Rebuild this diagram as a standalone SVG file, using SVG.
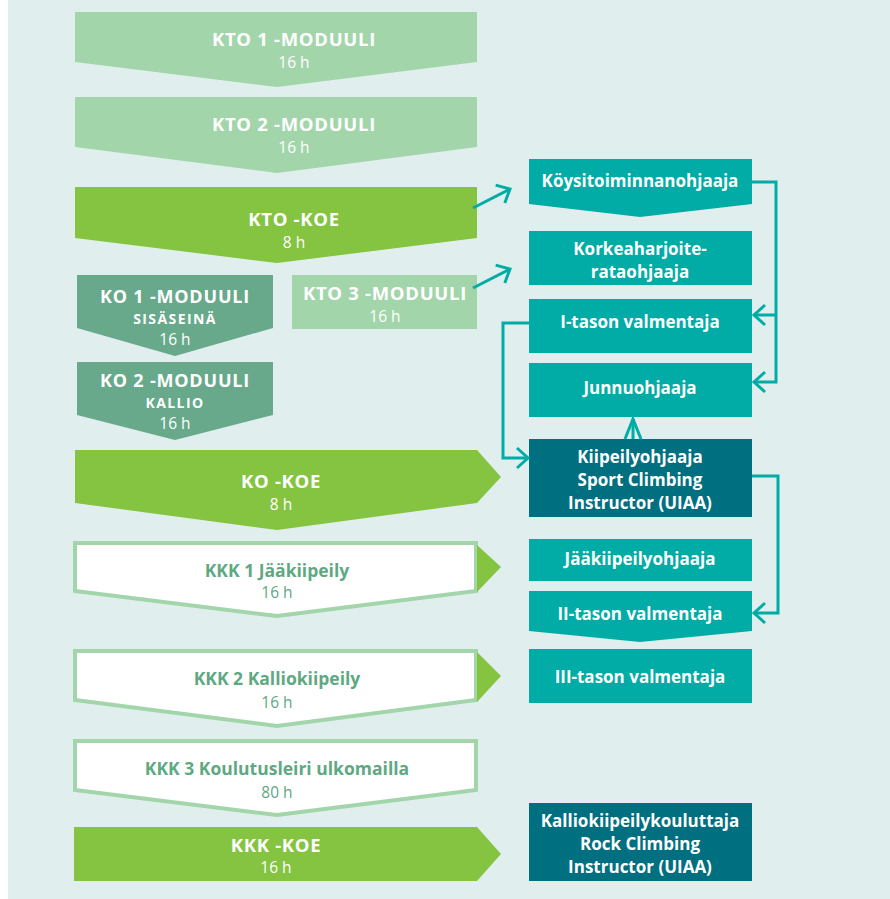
<svg xmlns="http://www.w3.org/2000/svg" width="890" height="899" viewBox="0 0 890 899">
<defs>
<style>
text{font-family:"Open Sans","Noto Sans","Liberation Sans",sans-serif;text-anchor:middle;fill:#ffffff}
.t{font-weight:bold;font-size:17.5px}
.u{font-weight:bold;font-size:18.5px;letter-spacing:0.7px}
.uk{font-weight:bold;font-size:18px;letter-spacing:0.8px}
.s{font-weight:bold;font-size:14px;letter-spacing:1.4px}
.h{font-size:15.5px}
.r{font-weight:bold;font-size:17px}
.k{fill:#5ea882}
.lg{fill:#a3d5ab}
.g{fill:#84c441}
.ko{fill:#67a98a}
.tl{fill:#00aca5}
.dk{fill:#006f80}
.wb{fill:#ffffff;stroke:#a3d5ab;stroke-width:4}
.c{fill:none;stroke:#00aca5;stroke-width:3}
</style>
<marker id="ah" markerUnits="userSpaceOnUse" viewBox="0 0 16 24" refX="13" refY="12" markerWidth="16" markerHeight="24" orient="auto">
<path d="M2,2 L13,12 L2,22" fill="none" stroke="#00aca5" stroke-width="3"/>
</marker>
</defs>
<rect x="8" y="0" width="882" height="899" fill="#e0efee"/>

<g id="kto1">
<polygon class="lg" points="75,12 477,12 477,62 277,87 75,62"/>
<text class="u" x="294" y="46">KTO 1 -MODUULI</text>
<text class="h" x="294" y="68">16 h</text>
</g>
<g id="kto2">
<polygon class="lg" points="75,97 477,97 477,147 277,173 75,147"/>
<text class="u" x="294" y="131">KTO 2 -MODUULI</text>
<text class="h" x="294" y="153">16 h</text>
</g>
<g id="ktokoe">
<polygon class="g" points="75,187 477,187 477,238 277,263 75,238"/>
<text class="u" x="294" y="226">KTO -KOE</text>
<text class="h" x="294" y="248">8 h</text>
</g>
<g id="ko1">
<polygon class="ko" points="77,275 273,275 273,328 175,356 77,328"/>
<text class="uk" x="175" y="303">KO 1 -MODUULI</text>
<text class="s" x="175" y="324">SISÄSEINÄ</text>
<text class="h" x="175" y="345">16 h</text>
</g>
<g id="kto3">
<rect class="lg" x="292" y="275" width="185" height="54"/>
<text class="u" x="385" y="300">KTO 3 -MODUULI</text>
<text class="h" x="385" y="322">16 h</text>
</g>
<g id="ko2">
<polygon class="ko" points="77,362 273,362 273,415 175,440 77,415"/>
<text class="uk" x="175" y="387">KO 2 -MODUULI</text>
<text class="s" x="175" y="408">KALLIO</text>
<text class="h" x="175" y="429">16 h</text>
</g>
<g id="kokoe">
<polygon class="g" points="75,450 477,450 501,477 477,503 277,530 75,503"/>
<text class="u" x="281" y="488">KO -KOE</text>
<text class="h" x="281" y="510">8 h</text>
</g>
<g id="kkk1">
<polygon class="wb" points="75,543 476,543 476,591 277,616 75,591"/>
<polygon class="g" points="477,545 501,567 477,592"/>
<text class="t k" x="277" y="577">KKK 1 Jääkiipeily</text>
<text class="h k" x="277" y="598">16 h</text>
</g>
<g id="kkk2">
<polygon class="wb" points="75,651 476,651 476,700 277,726 75,700"/>
<polygon class="g" points="477,652 501,676 477,702"/>
<text class="t k" x="277" y="685">KKK 2 Kalliokiipeily</text>
<text class="h k" x="277" y="708">16 h</text>
</g>
<g id="kkk3">
<polygon class="wb" points="75,741 476,741 476,790 277,815 75,790"/>
<text class="t k" x="277" y="775">KKK 3 Koulutusleiri ulkomailla</text>
<text class="h k" x="277" y="798">80 h</text>
</g>
<g id="kkkkoe">
<polygon class="g" points="74,827 477,827 501,854 477,881 74,881"/>
<text class="u" x="276" y="852">KKK -KOE</text>
<text class="h" x="276" y="873">16 h</text>
</g>

<g id="koysi">
<polygon class="tl" points="529,159 752,159 752,204 640,217 529,204"/>
<text class="r" x="640" y="187">Köysitoiminnanohjaaja</text>
</g>
<g id="korkea">
<rect class="tl" x="529" y="231" width="223" height="54"/>
<text class="r" x="640" y="255">Korkeaharjoite-</text>
<text class="r" x="640" y="278">rataohjaaja</text>
</g>
<g id="itaso">
<rect class="tl" x="529" y="299" width="223" height="54"/>
<text class="r" x="640" y="328">I-tason valmentaja</text>
</g>
<g id="junnu">
<rect class="tl" x="529" y="363" width="223" height="54"/>
<text class="r" x="640" y="394">Junnuohjaaja</text>
</g>
<g id="kiipeily">
<rect class="dk" x="529" y="439" width="223" height="78"/>
<text class="r" x="640" y="463">Kiipeilyohjaaja</text>
<text class="r" x="640" y="486">Sport Climbing</text>
<text class="r" x="640" y="509">Instructor (UIAA)</text>
</g>
<g id="jaa">
<rect class="tl" x="529" y="539" width="223" height="42"/>
<text class="r" x="640" y="565">Jääkiipeilyohjaaja</text>
</g>
<g id="iitaso">
<polygon class="tl" points="529,591 752,591 752,631 640,642 529,631"/>
<text class="r" x="640" y="620">II-tason valmentaja</text>
</g>
<g id="iiitaso">
<rect class="tl" x="529" y="649" width="223" height="54"/>
<text class="r" x="640" y="683">III-tason valmentaja</text>
</g>
<g id="kallio">
<rect class="dk" x="529" y="803" width="223" height="78"/>
<text class="r" x="640" y="827">Kalliokiipeilykouluttaja</text>
<text class="r" x="640" y="850">Rock Climbing</text>
<text class="r" x="640" y="873">Instructor (UIAA)</text>
</g>

<g id="connectors">
<line class="c" x1="473" y1="208" x2="510" y2="189" marker-end="url(#ah)"/>
<line class="c" x1="473" y1="288" x2="510" y2="269" marker-end="url(#ah)"/>
<polyline class="c" points="752,182 776,182 776,382 754,382" marker-end="url(#ah)"/>
<line class="c" x1="776" y1="315" x2="754" y2="315" marker-end="url(#ah)"/>
<polyline class="c" points="529,323 503,323 503,458 528,458" marker-end="url(#ah)"/>
<line class="c" x1="633" y1="439" x2="633" y2="419"/>
<polyline class="c" points="625,439 633,419 641,439"/>
<polyline class="c" points="752,476 778,476 778,613 754,613" marker-end="url(#ah)"/>
</g>
</svg>
